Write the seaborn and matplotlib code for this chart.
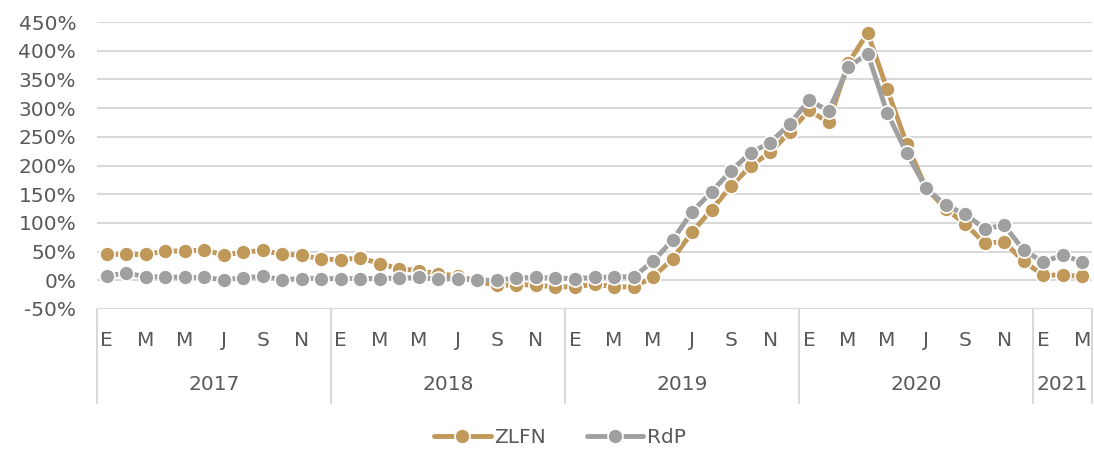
import numpy as np
import pandas as pd
import matplotlib
matplotlib.use('Agg')
import matplotlib.pyplot as plt
import matplotlib.transforms as mtransforms
from matplotlib.ticker import FuncFormatter
import seaborn as sns

# month labels shown (every other month) and year groups
years = ['2017', '2018', '2019', '2020', '2021']
months_per_year = [12, 12, 12, 12, 3]
month_labels = ['E', 'M', 'M', 'J', 'S', 'N']

zlfn = [45, 45, 45, 51, 51, 53, 44, 49, 52, 45, 44, 37,
        36, 39, 29, 20, 17, 11, 8, -2, -9, -8, -8, -12,
        -11, -7, -11, -12, 6, 37, 84, 123, 164, 199, 223, 258,
        296, 275, 378, 431, 333, 238, 160, 125, 98, 65, 67, 33,
        9, 9, 7]
rdp = [7, 13, 6, 6, 5, 5, 1, 4, 7, 1, 3, 3,
       3, 3, 3, 4, 5, 2, 3, 0, 0, 4, 5, 4,
       3, 5, 6, 6, 33, 70, 119, 154, 191, 222, 240, 272,
       314, 295, 371, 395, 292, 222, 160, 131, 115, 90, 96, 52,
       32, 44, 32]

c_zlfn = '#C0985A'
c_rdp = '#A0A0A0'
txt = '#595959'
grid_c = '#D9D9D9'
fs = 14.5

sns.set_style('white')
plt.rcParams['font.family'] = ['DejaVu Sans']

df = pd.DataFrame({'idx': np.arange(len(zlfn)), 'ZLFN': zlfn, 'RdP': rdp})

fig = plt.figure(figsize=(10.94, 4.49), dpi=100)
ax = fig.add_axes([97 / 1094, 140 / 449, 995 / 1094, 287 / 449])

for name, col in [('ZLFN', c_zlfn), ('RdP', c_rdp)]:
    sns.lineplot(data=df, x='idx', y=name, ax=ax, color=col, linewidth=3.5,
                 marker='o', markersize=10.8, markeredgecolor='white',
                 markeredgewidth=1.2, label=name)

ax.set_xlim(-0.5, len(zlfn) - 0.5)
ax.set_ylim(-50, 450)
ax.set_yticks(np.arange(-50, 451, 50))
ax.yaxis.set_major_formatter(FuncFormatter(lambda v, p: f'{int(v)}%'))
ax.tick_params(axis='y', length=0, labelsize=fs, labelcolor=txt, pad=15)
ax.set_xticks([])
ax.grid(axis='y', color=grid_c, linewidth=1.5)
ax.set_axisbelow(True)
for s in ['top', 'right', 'left', 'bottom']:
    ax.spines[s].set_visible(False)
ax.set_xlabel('')
ax.set_ylabel('')

# two-level category axis
trans = mtransforms.blended_transform_factory(ax.transData, ax.transAxes)
px = 1 / 287
start = 0
for yr, n in zip(years, months_per_year):
    ax.plot([start - 0.5, start - 0.5], [0, -94 * px], transform=trans,
            color=grid_c, lw=1.5, clip_on=False)
    for k in range(0, n, 2):
        ax.text(start + k, -31 * px, month_labels[k // 2], transform=trans,
                ha='center', va='center', fontsize=fs, color=txt)
    ax.text(start + (n - 1) / 2, -76 * px, yr, transform=trans,
            ha='center', va='center', fontsize=fs, color=txt)
    start += n
ax.plot([start - 0.5, start - 0.5], [0, -94 * px], transform=trans,
        color=grid_c, lw=1.5, clip_on=False)

ax.get_legend().remove()
h, l = ax.get_legend_handles_labels()
fig.legend(h, l, loc='center', bbox_to_anchor=(0.512, 0.025), ncol=2,
           frameon=False, fontsize=fs, labelcolor=txt, handlelength=2.8,
           columnspacing=2.0, handletextpad=0.2)

fig.savefig('out.png', dpi=100)
